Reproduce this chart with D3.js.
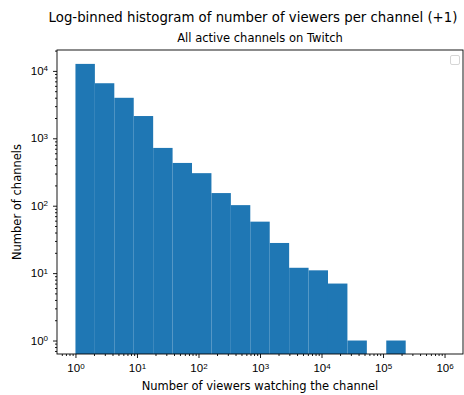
<!DOCTYPE html>
<html>
<head>
<meta charset="utf-8">
<script src="https://cdn.jsdelivr.net/npm/d3@7"></script>
<style>
  html, body { margin: 0; padding: 0; background: #fff; }
  svg { display: block; font-family: "DejaVu Sans", sans-serif; }
</style>
</head>
<body>
<svg id="chart" width="464" height="395"></svg>
<script>
// Log-spaced bin edges: 10^0 .. 10^6 split into 19 bins
const binCount = 19;
const binExponentMax = 6;
// Channels per bin (viewers + 1)
const channelCounts = [12700, 6560, 3990, 2140, 720, 431, 304, 154, 102, 58, 28, 12, 11, 7, 1, 0, 1, 0, 0];
const xTickExponents = [0, 1, 2, 3, 4, 5, 6];
const yTickExponents = [0, 1, 2, 3, 4];

const titleText = "Log-binned histogram of number of viewers per channel (+1)";
const subtitleText = "All active channels on Twitch";
const xLabelText = "Number of viewers watching the channel";
const yLabelText = "Number of channels";

const bins = channelCounts.map((count, i) => ({
  x0: Math.pow(10, i * binExponentMax / binCount),
  x1: Math.pow(10, (i + 1) * binExponentMax / binCount),
  count
}));

const svg = d3.select("#chart");
const plotLeft = 57, plotRight = 463, plotTop = 50, plotBottom = 354;
const labelSize = "11.5px";

const x = d3.scaleLog()
  .domain([Math.pow(10, -0.3), Math.pow(10, 6.3)])
  .range([plotLeft, plotRight]);
const y = d3.scaleLog()
  .domain([Math.pow(10, -0.2), Math.pow(10, 4.31)])
  .range([plotBottom, plotTop]);

// Bars
svg.append("g")
  .selectAll("rect")
  .data(bins.filter(d => d.count > 0))
  .join("rect")
  .attr("x", d => x(d.x0))
  .attr("width", d => x(d.x1) - x(d.x0))
  .attr("y", d => y(d.count))
  .attr("height", d => plotBottom - y(d.count))
  .attr("fill", "#1f77b4");

// Minor tick values (2..9 x 10^k) inside each domain
function minorTicks(scale) {
  const [a, b] = scale.domain();
  const out = [];
  for (let k = Math.floor(Math.log10(a)) - 1; k <= Math.ceil(Math.log10(b)); k++) {
    for (let m = 2; m <= 9; m++) {
      const v = m * Math.pow(10, k);
      if (v >= a && v <= b) out.push(v);
    }
  }
  return out;
}

function powerLabels(sel) {
  sel.selectAll(".tick text").each(function(d) {
    const t = d3.select(this);
    const e = Math.round(Math.log10(d));
    t.text(null);
    t.append("tspan").text("10");
    t.append("tspan").attr("dy", "-0.45em").attr("font-size", "8px").text(e);
  });
}

// X axis
const xMinor = svg.append("g").attr("transform", `translate(0,${plotBottom})`)
  .call(d3.axisBottom(x).tickValues(minorTicks(x)).tickSize(2).tickFormat(""));
const xMajor = svg.append("g").attr("transform", `translate(0,${plotBottom})`)
  .call(d3.axisBottom(x).tickValues(xTickExponents.map(e => Math.pow(10, e))).tickSize(4).tickPadding(6));
xMajor.selectAll("text").attr("font-size", labelSize).attr("fill", "#000");
xMajor.call(powerLabels);

// Y axis
const yMinor = svg.append("g").attr("transform", `translate(${plotLeft},0)`)
  .call(d3.axisLeft(y).tickValues(minorTicks(y)).tickSize(2).tickFormat(""));
const yMajor = svg.append("g").attr("transform", `translate(${plotLeft},0)`)
  .call(d3.axisLeft(y).tickValues(yTickExponents.map(e => Math.pow(10, e))).tickSize(4).tickPadding(5));
yMajor.selectAll("text").attr("font-size", labelSize).attr("fill", "#000");
yMajor.call(powerLabels);

[xMinor, xMajor, yMinor, yMajor].forEach(g => {
  g.select(".domain").remove();
  g.selectAll(".tick line").attr("stroke", "#000").attr("stroke-width", 0.9);
});

// Frame
svg.append("rect")
  .attr("x", plotLeft).attr("y", plotTop)
  .attr("width", plotRight - plotLeft).attr("height", plotBottom - plotTop)
  .attr("fill", "none").attr("stroke", "#000").attr("stroke-width", 0.9);

// Empty legend box
svg.append("rect")
  .attr("x", 450.5).attr("y", 55.5).attr("width", 9).attr("height", 9)
  .attr("rx", 1.5)
  .attr("fill", "#fff").attr("stroke", "#d6d6d6").attr("stroke-width", 1);

// Titles and labels
svg.append("text")
  .attr("x", 253).attr("y", 22)
  .attr("text-anchor", "middle").attr("font-size", "13.3px").attr("fill", "#000")
  .text(titleText);
svg.append("text")
  .attr("x", (plotLeft + plotRight) / 2).attr("y", 42)
  .attr("text-anchor", "middle").attr("font-size", labelSize).attr("fill", "#000")
  .text(subtitleText);
svg.append("text")
  .attr("x", (plotLeft + plotRight) / 2).attr("y", 390)
  .attr("text-anchor", "middle").attr("font-size", labelSize).attr("fill", "#000")
  .text(xLabelText);
svg.append("text")
  .attr("transform", `translate(21,${(plotTop + plotBottom) / 2}) rotate(-90)`)
  .attr("text-anchor", "middle").attr("font-size", labelSize).attr("fill", "#000")
  .text(yLabelText);
</script>
</body>
</html>
